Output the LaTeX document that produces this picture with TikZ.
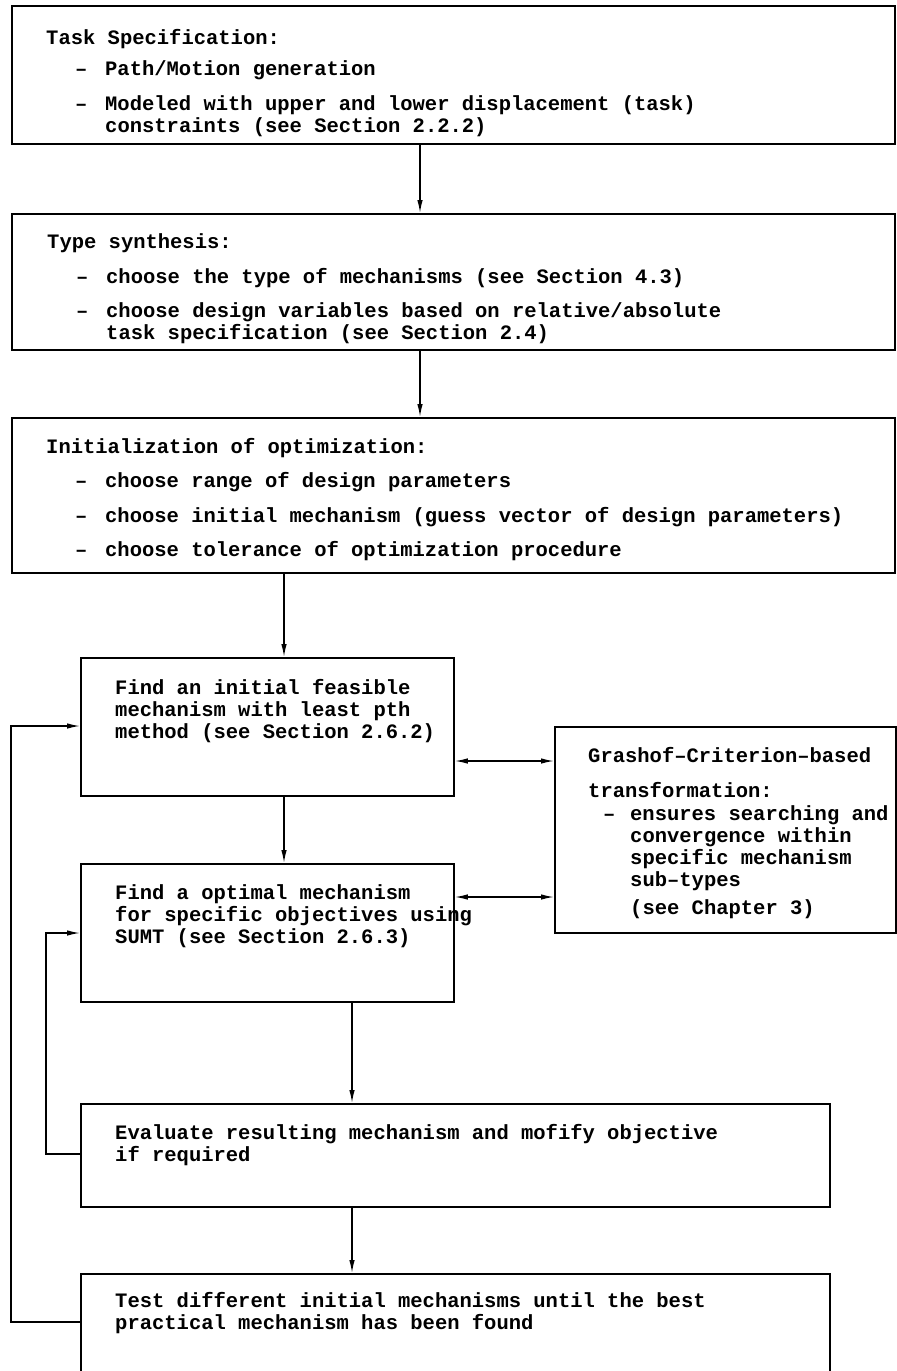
\documentclass[tikz,border=0pt]{standalone}
\usepackage{fontspec}
\usetikzlibrary{arrows.meta}
\newfontfamily\flowfont{Liberation Mono}
\newcommand{\itm}{\hspace*{29pt}\makebox[30pt][l]{\textendash}}
\newcommand{\cnt}{\hspace*{59pt}}

\begin{document}
\begin{tikzpicture}[x=1pt, y=-1pt,
    box/.style = {draw, line width=1.8pt, inner sep=0pt, anchor=north west},
    txt/.style = {anchor=north west, inner sep=0pt, align=left,
                  font=\flowfont\bfseries\fontsize{20.5}{22}\selectfont},
    arr/.style = {line width=1.4pt, -{Latex[length=13pt,width=5.5pt]}},
    dbl/.style = {line width=1.4pt, {Latex[length=13pt,width=5.5pt]}-{Latex[length=13pt,width=5.5pt]}}]
    \clip (0,0) rectangle (897,1371);

    % boxes
    \node[box, minimum width=883pt, minimum height=138pt] (task) at (11,5) {};
    \node[box, minimum width=883pt, minimum height=136pt] (typesyn) at (11,213) {};
    \node[box, minimum width=883pt, minimum height=155pt] (init) at (11,417) {};
    \node[box, minimum width=373pt, minimum height=138pt] (feas) at (80,657) {};
    \node[box, minimum width=373pt, minimum height=138pt] (optim) at (80,863) {};
    \node[box, minimum width=341pt, minimum height=206pt] (grashof) at (554,726) {};
    \node[box, minimum width=749pt, minimum height=103pt] (evalm) at (80,1103) {};
    \node[box, minimum width=749pt, minimum height=130pt] (test) at (80,1273) {};

    % texts
    \node[txt] (tasktxt) at (46,29.5) {Task Specification:\\[9pt]
        \itm Path/Motion generation\\[13pt]
        \itm Modeled with upper and lower displacement (task)\\
        \cnt constraints (see Section 2.2.2)};
    \node[txt] (typesyntxt) at (47,233.5) {Type synthesis:\\[13pt]
        \itm choose the type of mechanisms (see Section 4.3)\\[12pt]
        \itm choose design variables based on relative/absolute\\
        \cnt task specification (see Section 2.4)};
    \node[txt] (inittxt) at (46,438.5) {Initialization of optimization:\\[12pt]
        \itm choose range of design parameters\\[13pt]
        \itm choose initial mechanism (guess vector of design parameters)\\[12pt]
        \itm choose tolerance of optimization procedure};
    \node[txt] (feastxt) at (115,679.5) {Find an initial feasible\\
        mechanism with least pth\\
        method (see Section 2.6.2)};
    \node[txt] (optimtxt) at (115,884.5) {Find a optimal mechanism\\
        for specific objectives using\\
        SUMT (see Section 2.6.3)};
    \node[txt] (grashoftxt) at (588,747.5) {Grashof\textendash Criterion\textendash based\\[13pt]
        transformation:\\[1pt]
        \hspace*{15pt}\makebox[27pt][l]{\textendash}ensures searching and\\
        \hspace*{42pt}convergence within\\
        \hspace*{42pt}specific mechanism\\
        \hspace*{42pt}sub\textendash types\\[6pt]
        \hspace*{42pt}(see Chapter 3)};
    \node[txt] (evalmtxt) at (115,1124.5) {Evaluate resulting mechanism and mofify objective\\
        if required};
    \node[txt] (testtxt) at (115,1292.5) {Test different initial mechanisms until the best\\
        practical mechanism has been found};

    % columns and rows of the connectors
    \coordinate (colA) at (420,0);
    \coordinate (colB) at (284,0);
    \coordinate (colC) at (352,0);
    \coordinate (outer) at (11,0);
    \coordinate (inner) at (46,0);
    \coordinate (rowA) at (0,761);
    \coordinate (rowB) at (0,897);
    \coordinate (rowC) at (0,726);
    \coordinate (rowD) at (0,933);
    \coordinate (rowE) at (0,1154);
    \coordinate (rowF) at (0,1322);

    % connectors
    \draw[arr] (task.south -| colA) -- (typesyn.north -| colA);
    \draw[arr] (typesyn.south -| colA) -- (init.north -| colA);
    \draw[arr] (init.south -| colB) -- (feas.north -| colB);
    \draw[arr] (feas.south -| colB) -- (optim.north -| colB);
    \draw[arr] (optim.south -| colC) -- (evalm.north -| colC);
    \draw[arr] (evalm.south -| colC) -- (test.north -| colC);
    \draw[dbl] (feas.east |- rowA) -- (grashof.west |- rowA);
    \draw[dbl] (optim.east |- rowB) -- (grashof.west |- rowB);
    \draw[arr] (test.west |- rowF) -- (outer |- rowF) -- (outer |- rowC) -- (feas.west |- rowC);
    \draw[arr] (evalm.west |- rowE) -- (inner |- rowE) -- (inner |- rowD) -- (optim.west |- rowD);
\end{tikzpicture}
\end{document}
